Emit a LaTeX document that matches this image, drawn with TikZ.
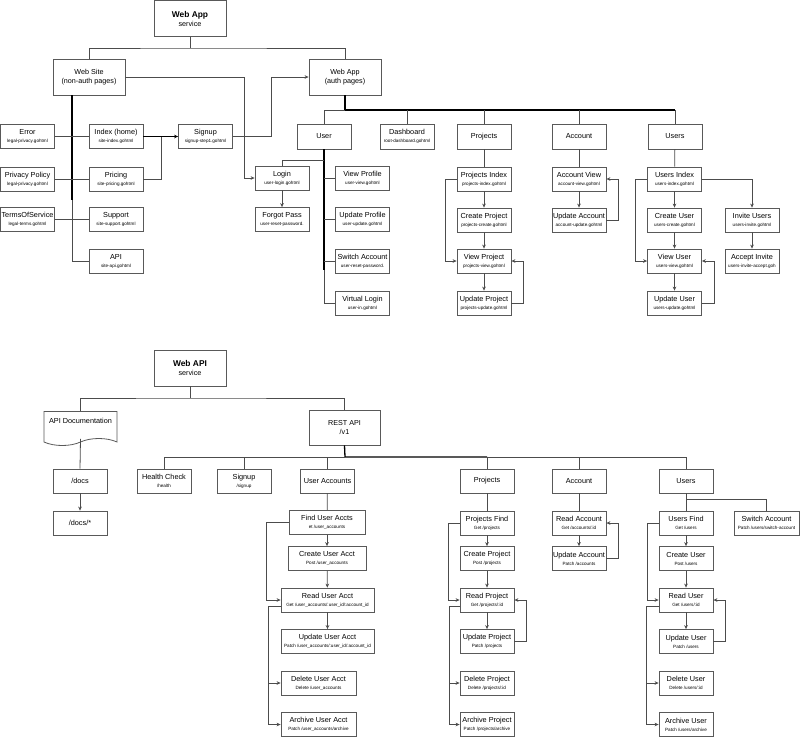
\documentclass[tikz,border=0pt]{standalone}
\usepackage{fontspec}
\setmainfont{Liberation Sans}
\usetikzlibrary{positioning,calc,arrows.meta,shapes.symbols}
\newcommand{\pg}[2]{#1\\{\fontsize{4.6}{5}\selectfont #2}}
\newcommand{\hubtext}[2]{{\bfseries\fontsize{8.4}{9}\selectfont #1}\\#2}

\begin{document}
\begin{tikzpicture}[x=1pt,y=-1pt,
		box/.style={draw=black!65, line width=0.8pt, fill=white, minimum width=54pt, minimum height=24pt, inner sep=1pt, align=center, font=\fontsize{7.3}{8}\selectfont},
		sect/.style={box, minimum height=25pt},
		hub/.style={box, minimum width=72pt, minimum height=36pt, font=\fontsize{7.2}{9}\selectfont},
		link/.style={draw=black!70, line width=0.8pt},
		spine/.style={draw=black, line width=1.3pt},
		arr/.style={link, -{Stealth[length=4pt,width=3.6pt]}}]
		\useasboundingbox (0,0) rectangle (800,737);

		\node[hub] (webapp) at (190,18.5) {\hubtext{Web App}{service}};
		\node[hub] (website) at (89,77) {Web Site\\(non-auth pages)};
		\node[hub] (authapp) at (345,77) {Web App\\(auth pages)};

		\node[box] (error) at (27.5,136.5) {\pg{Error}{legal-privacy.gohtml}};
		\node[box] (index) at (116,136.5) {\pg{Index (home)}{site-index.gohtml}};
		\node[box] (signup) at (205.5,136.5) {\pg{Signup}{signup-step1.gohtml}};
		\node[box] (privacy) at (27.5,179.5) {\pg{Privacy Policy}{legal-privacy.gohtml}};
		\node[box] (pricing) at (116,179.5) {\pg{Pricing}{site-pricing.gohtml}};
		\node[box] (terms) at (27.5,219.5) {\pg{TermsOfService}{legal-terms.gohtml}};
		\node[box] (support) at (116,219.5) {\pg{Support}{site-support.gohtml}};
		\node[box] (api) at (116,261) {\pg{API}{site-api.gohtml}};

		\node[sect] (user) at (324,136.5) {User};
		\node[sect] (dashboard) at (407,136.5) {\pg{Dashboard}{root-dashboard.gohtml}};
		\node[sect] (projects) at (484,136.5) {Projects};
		\node[sect] (account) at (579,136.5) {Account};
		\node[sect] (users) at (675,136.5) {Users};

		\node[box] (login) at (282,178) {\pg{Login}{user-login.gohtml}};
		\node[box] (forgot) at (282,219.5) {\pg{Forgot Pass}{user-reset-password.}};
		\node[box] (viewprofile) at (362.5,178) {\pg{View Profile}{user-view.gohtml}};
		\node[box] (updateprofile) at (362.5,219.5) {\pg{Update Profile}{user-update.gohtml}};
		\node[box] (switchacct) at (362.5,261) {\pg{Switch Account}{user-reset-password.}};
		\node[box] (virtual) at (362.5,303) {\pg{Virtual Login}{user-in.gohtml}};

		\node[box] (projindex) at (484,179) {\pg{Projects Index}{projects-index.gohtml}};
		\node[box] (projcreate) at (484,220) {\pg{Create Project}{projects-create.gohtml}};
		\node[box] (projview) at (484,261) {\pg{View Project}{projects-view.gohtml}};
		\node[box] (projupdate) at (484,303) {\pg{Update Project}{projects-update.gohtml}};

		\node[box] (accview) at (579,179) {\pg{Account View}{account-view.gohtml}};
		\node[box] (accupdate) at (579,220) {\pg{Update Account}{account-update.gohtml}};

		\node[box] (usersindex) at (674.5,179) {\pg{Users Index}{users-index.gohtml}};
		\node[box] (userscreate) at (674.5,220) {\pg{Create User}{users-create.gohtml}};
		\node[box] (usersview) at (674.5,261) {\pg{View User}{users-view.gohtml}};
		\node[box] (usersupdate) at (674.5,303) {\pg{Update User}{users-update.gohtml}};
		\node[box] (invite) at (752,220) {\pg{Invite Users}{users-invite.gohtml}};
		\node[box] (accept) at (752,261) {\pg{Accept Invite}{users-invite-accept.goh}};

		\coordinate (topbus) at (190,48);
		\coordinate (sitespine) at (72,95);
		\coordinate (authbus) at (345,110);
		\coordinate (userjoin) at (324,160);
		\draw[link] (webapp.south) -- (topbus);
		\draw[link] (website.north) |- (topbus) -| (authapp.north);
		\draw[spine] (sitespine) -- (72,200);
		\draw[link] (72,200) |- (api.west);
		\draw[link] (error.east) -- (index.west);
		\draw[link] (privacy.east) -- (pricing.west);
		\draw[link] (terms.east) -- (support.west);
		\draw[arr, line width=1.1pt, draw=black] (index.east) -- (signup.west);
		\draw[link] (pricing.east) -- ++(18,0) -- ++(0,-43);
		\draw[arr] (website.east) -- ++(119,0) |- (login.west);
		\draw[arr] (signup.east) -- ++(38,0) |- (authapp.west);

		\draw[spine] (authapp.south) -- (authbus) -- (authbus -| users.north);
		\draw[link] (user.north) |- (authbus);
		\draw[link] (users.north) -- (users.north |- authbus);
		\draw[link] (dashboard.north) -- (dashboard.north |- authbus);
		\draw[link] (projects.north) -- (projects.north |- authbus);
		\draw[link] (account.north) -- (account.north |- authbus);

		\draw[spine] (user.south) -- (324,270);
		\draw[link] (324,270) |- (virtual.west);
		\draw[link] (login.north) |- (userjoin);
		\draw[link] (viewprofile.west) -- (viewprofile.west -| user.south);
		\draw[link] (updateprofile.west) -- (updateprofile.west -| user.south);
		\draw[link] (switchacct.west) -- (switchacct.west -| user.south);
		\draw[arr] (login) -- (forgot);

		\draw[link] (projects) -- (projindex);
		\draw[arr] (projindex) -- (projcreate);
		\draw[arr] (projcreate) -- (projview);
		\draw[arr] (projview) -- (projupdate);
		\draw[arr] (projindex.west) -- ++(-11,0) |- (projview.west);
		\draw[arr] (projupdate.east) -- ++(12,0) |- (projview.east);

		\draw[link] (account) -- (accview);
		\draw[arr] (accview) -- (accupdate);
		\draw[arr] (accupdate.east) -- ++(12,0) |- (accview.east);

		\draw[link] (users) -- (usersindex);
		\draw[arr] (usersindex) -- (userscreate);
		\draw[arr] (userscreate) -- (usersview);
		\draw[arr] (usersview) -- (usersupdate);
		\draw[arr] (usersindex.west) -- ++(-12,0) |- (usersview.west);
		\draw[arr] (usersupdate.east) -- ++(12,0) |- (usersview.east);
		\draw[arr] (usersindex.east) -| (invite.north);
		\draw[arr] (invite) -- (accept);

		\node[hub] (webapi) at (190,368) {\hubtext{Web API}{service}};
		\node[box, tape, tape bend top=none, tape bend bottom=in and out, tape bend height=7pt, minimum width=73pt, minimum height=34pt, text depth=9pt] (apidoc) at (80.5,425) {API Documentation};
		\node[hub, minimum width=71pt, minimum height=35pt] (restapi) at (344.5,427.5) {REST API\\/v1};
		\node[box] (docs) at (80,481) {/docs};
		\node[box] (docsall) at (80,523) {/docs/*};

		\node[box] (health) at (164,481) {\pg{Health Check}{/health}};
		\node[box] (apisignup) at (244,481) {\pg{Signup}{/signup}};
		\node[box] (useraccts) at (327.5,481) {User Accounts};
		\node[box] (apiprojects) at (487,481) {Projects};
		\node[box] (apiaccount) at (579,481) {Account};
		\node[box] (apiusers) at (686,481) {Users};

		\node[box, minimum width=76pt] (findua) at (327,522.5) {\pg{Find User Accts}{et /user\_accounts}};
		\node[box, minimum width=78pt] (createua) at (327,558.5) {\pg{Create User Acct}{Post /user\_accounts}};
		\node[box, minimum width=93pt] (readua) at (327.5,600) {\pg{Read User Acct}{Get /user\_accounts/:user\_id/:account\_id}};
		\node[box, minimum width=93pt] (updateua) at (327.5,641.5) {\pg{Update User Acct}{Patch /user\_accounts/:user\_id/:account\_id}};
		\node[box, minimum width=75pt] (deleteua) at (318.5,683) {\pg{Delete User Acct}{Delete /user\_accounts}};
		\node[box, minimum width=75pt] (archiveua) at (318.5,724.5) {\pg{Archive User Acct}{Patch /user\_accounts/archive}};

		\node[box] (projfind) at (487,523) {\pg{Projects Find}{Get /projects}};
		\node[box] (projpost) at (487,558.5) {\pg{Create Project}{Post /projects}};
		\node[box] (projread) at (487,600) {\pg{Read Project}{Get /projects/:id}};
		\node[box] (projpatch) at (487,641.5) {\pg{Update Project}{Patch /projects}};
		\node[box] (projdelete) at (487,683) {\pg{Delete Project}{Delete /projects/:id}};
		\node[box] (projarchive) at (487,724.5) {\pg{Archive Project}{Patch /projects/archive}};

		\node[box] (readacc) at (579,523) {\pg{Read Account}{Get /accounts/:id}};
		\node[box] (patchacc) at (579,558.5) {\pg{Update Account}{Patch /accounts}};

		\node[box] (usersfind) at (686,523) {\pg{Users Find}{Get /users}};
		\node[box] (userpost) at (686,558.5) {\pg{Create User}{Post /users}};
		\node[box] (userread) at (686,600) {\pg{Read User}{Get /users/:id}};
		\node[box] (userpatch) at (686,641.5) {\pg{Update User}{Patch /users}};
		\node[box] (userdelete) at (686,683) {\pg{Delete User}{Delete /users/:id}};
		\node[box] (userarchive) at (686,724.5) {\pg{Archive User}{Patch /users/archive}};
		\node[box, minimum width=65pt] (switchapi) at (766.5,523) {\pg{Switch Account}{Patch /users/switch-account}};

		\coordinate (apibus) at (190,398);
		\coordinate (restbus) at (345,457);
		\coordinate (usersjoin) at (686,499);
		\draw[link] (webapi.south) -- (apibus);
		\draw[link] (apidoc.north) |- (apibus) -| (restapi.north);
		\draw[link] (apidoc.south) -- (docs.north);
		\draw[arr] (docs) -- (docsall);

		\draw[spine] (restapi.south) -- (restbus) -- (restbus -| apiprojects.north);
		\draw[link] (health.north) |- (restbus);
		\draw[link] (restbus -| apiprojects.north) -| (apiusers.north);
		\draw[link] (apisignup.north) -- (apisignup.north |- restbus);
		\draw[link] (useraccts.north) -- (useraccts.north |- restbus);
		\draw[link] (apiprojects.north) -- (apiprojects.north |- restbus);
		\draw[link] (apiaccount.north) -- (apiaccount.north |- restbus);

		\draw[link] (useraccts) -- (findua);
		\draw[arr] (findua) -- (createua);
		\draw[arr] (createua) -- (readua);
		\draw[arr] (readua) -- (updateua);
		\draw[arr] (findua.west) -- ++(-22,0) |- (readua.west);
		\draw[arr] ($(readua.west)+(0,6)$) -- ++(-12,0) |- (deleteua.west);
		\draw[arr] ($(readua.west)+(0,6)$) -- ++(-12,0) |- (archiveua.west);

		\draw[link] (apiprojects) -- (projfind);
		\draw[arr] (projfind) -- (projpost);
		\draw[arr] (projpost) -- (projread);
		\draw[arr] (projread) -- (projpatch);
		\draw[arr] (projfind.west) -- ++(-11,0) |- (projread.west);
		\draw[arr] (projpatch.east) -- ++(12,0) |- (projread.east);
		\draw[arr] ($(projread.west)+(0,6)$) -- ++(-10,0) |- (projdelete.west);
		\draw[arr] ($(projread.west)+(0,6)$) -- ++(-10,0) |- (projarchive.west);

		\draw[link] (apiaccount) -- (readacc);
		\draw[arr] (readacc) -- (patchacc);
		\draw[arr] (patchacc.east) -- ++(12,0) |- (readacc.east);

		\draw[link] (apiusers) -- (usersfind);
		\draw[link] (switchapi.north) |- (usersjoin);
		\draw[arr] (usersfind) -- (userpost);
		\draw[arr] (userpost) -- (userread);
		\draw[arr] (userread) -- (userpatch);
		\draw[arr] (usersfind.west) -- ++(-11,0) |- (userread.west);
		\draw[arr] (userpatch.east) -- ++(12,0) |- (userread.east);
		\draw[arr] ($(userread.west)+(0,6)$) -- ++(-12,0) |- (userdelete.west);
		\draw[arr] ($(userread.west)+(0,6)$) -- ++(-12,0) |- (userarchive.west);
	\end{tikzpicture}
\end{document}
